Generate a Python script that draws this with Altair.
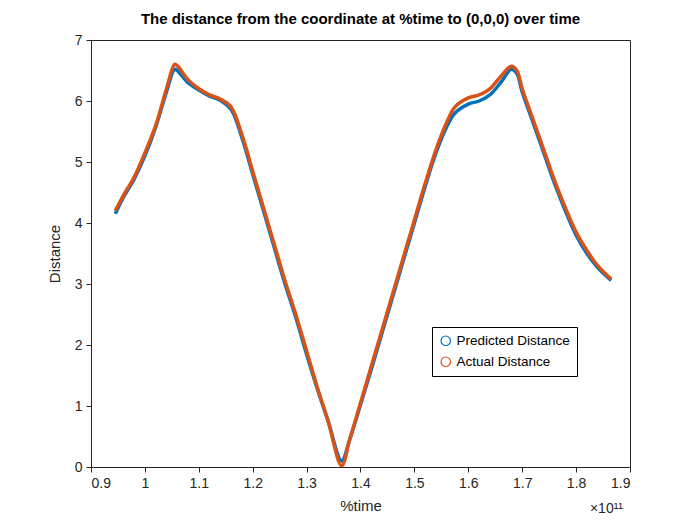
import altair as alt
import pandas as pd

# %time in units of 1e11
times = [0.945, 0.96, 0.98, 1.00, 1.02, 1.04, 1.055, 1.06, 1.08, 1.10, 1.12, 1.14, 1.16,
         1.18, 1.20, 1.22, 1.24, 1.26, 1.28, 1.30, 1.32, 1.34, 1.365, 1.38, 1.40, 1.42,
         1.44, 1.46, 1.48, 1.50, 1.52, 1.54, 1.56, 1.575, 1.60, 1.62, 1.64, 1.66, 1.68,
         1.69, 1.70, 1.72, 1.74, 1.76, 1.78, 1.80, 1.82, 1.84, 1.865]
actual = [4.2, 4.45, 4.75, 5.15, 5.6, 6.2, 6.6, 6.58, 6.35, 6.2, 6.1, 6.03, 5.9,
          5.45, 4.85, 4.25, 3.65, 3.05, 2.5, 1.9, 1.3, 0.75, 0.02, 0.45, 1.05, 1.65,
          2.25, 2.85, 3.45, 4.05, 4.65, 5.2, 5.65, 5.9, 6.05, 6.1, 6.2, 6.4, 6.57,
          6.5, 6.2, 5.7, 5.2, 4.7, 4.25, 3.85, 3.55, 3.3, 3.08]
predicted = [4.15, 4.42, 4.72, 5.1, 5.57, 6.15, 6.52, 6.5, 6.3, 6.18, 6.08, 6.01, 5.86,
             5.4, 4.8, 4.2, 3.6, 3.0, 2.45, 1.85, 1.28, 0.75, 0.1, 0.45, 1.02, 1.6,
             2.2, 2.8, 3.4, 4.0, 4.6, 5.15, 5.58, 5.8, 5.95, 6.0, 6.1, 6.3, 6.52,
             6.45, 6.15, 5.65, 5.15, 4.65, 4.2, 3.8, 3.5, 3.27, 3.06]

series = ["Predicted Distance", "Actual Distance"]
colors = ["#0072BD", "#D95319"]

df = pd.concat([
    pd.DataFrame({"t": times, "d": predicted, "s": series[0]}),
    pd.DataFrame({"t": times, "d": actual, "s": series[1]}),
])

FONT = "Liberation Sans"

lines = alt.Chart(df).mark_line(strokeWidth=3.5, interpolate="catmull-rom").encode(
    x=alt.X("t:Q", title="%time", scale=alt.Scale(domain=[0.9, 1.9], nice=False),
            axis=alt.Axis(values=[0.9, 1.0, 1.1, 1.2, 1.3, 1.4, 1.5, 1.6, 1.7, 1.8, 1.9],
                          format="~g", grid=False, titlePadding=8)),
    y=alt.Y("d:Q", title="Distance", scale=alt.Scale(domain=[0, 7], nice=False),
            axis=alt.Axis(values=list(range(8)), grid=False, titlePadding=12)),
    color=alt.Color("s:N", sort=series, scale=alt.Scale(domain=series, range=colors),
                    legend=alt.Legend(title=None, orient="none", legendX=341, legendY=287,
                                      symbolType="circle", symbolFillColor="white",
                                      symbolStrokeWidth=1.2, symbolSize=90,
                                      labelFontSize=13.5, labelFont=FONT, rowPadding=6,
                                      strokeColor="black", padding=7, fillColor="white")),
    order=alt.Order("t:Q"),
)

exp = alt.Chart(pd.DataFrame({"txt": ["×10¹¹"]})).mark_text(
    font=FONT, fontSize=14, align="right", baseline="top", color="#262626"
).encode(text="txt:N", x=alt.value(532), y=alt.value(462))

chart = (lines + exp).properties(
    width=539, height=427, autosize=alt.AutoSizeParams(type="none"),
    padding={"left": 83, "top": 32, "right": 62, "bottom": 50},
    title=alt.TitleParams("The distance from the coordinate at %time to (0,0,0) over time",
                          font=FONT, fontSize=15, fontWeight="bold", color="black", offset=6),
).configure_view(stroke="#262626", strokeWidth=1).configure_axis(
    labelFont=FONT, titleFont=FONT, labelFontSize=14, titleFontSize=15,
    titleFontWeight="normal", labelColor="#262626", titleColor="#262626",
    domainColor="#262626", tickColor="#262626", labelPadding=4,
)

chart.save("out.html", embed_options={"renderer": "svg", "actions": False})
